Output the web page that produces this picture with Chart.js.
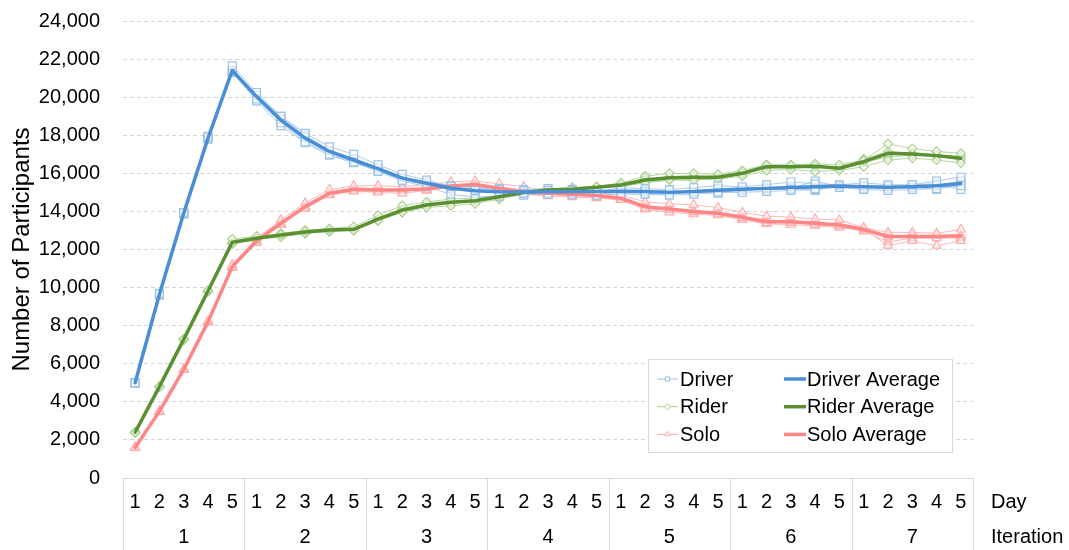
<!DOCTYPE html>
<html>
<head>
<meta charset="utf-8">
<script src="https://cdn.jsdelivr.net/npm/chart.js@4/dist/chart.umd.min.js"></script>
<style>
  html, body { margin: 0; padding: 0; background: #ffffff; }
  canvas { display: block; }
</style>
</head>
<body>
<canvas id="chart" width="1069" height="550"></canvas>
<script>
// Day within each iteration (7 iterations x 5 days)
const days = ['1','2','3','4','5','1','2','3','4','5','1','2','3','4','5','1','2','3','4','5',
              '1','2','3','4','5','1','2','3','4','5','1','2','3','4','5'];
const iterations = ['1','2','3','4','5','6','7'];
const yTicks = [0, 2000, 4000, 6000, 8000, 10000, 12000, 14000, 16000, 18000, 20000, 22000, 24000];

// Averages across runs
const driverAverage = [5000, 9650, 13900, 17850, 21400, 20030, 18800, 17850, 17150, 16700, 16250, 15750, 15480, 15220, 15080, 15030, 15020, 15030, 15040, 15040, 15060, 15040, 15000, 15040, 15110, 15160, 15210, 15250, 15300, 15330, 15300, 15270, 15300, 15350, 15470];
const riderAverage  = [2400, 4800, 7280, 9820, 12380, 12590, 12760, 12920, 13020, 13060, 13600, 14070, 14340, 14480, 14560, 14770, 14990, 15120, 15170, 15270, 15390, 15650, 15770, 15790, 15790, 16000, 16350, 16350, 16370, 16270, 16610, 17050, 17020, 16930, 16790];
const soloAverage   = [1600, 3500, 5700, 8200, 11100, 12450, 13380, 14250, 14950, 15160, 15130, 15120, 15190, 15330, 15420, 15220, 15040, 14950, 14900, 14830, 14690, 14250, 14130, 13990, 13900, 13690, 13460, 13460, 13380, 13290, 13060, 12680, 12680, 12680, 12720];

// Individual runs
const driverRun1 = [5000, 9700, 13950, 17950, 21650, 20250, 19000, 18100, 17400, 17000, 16450, 15950, 15650, 15300, 15100, 15050, 14950, 14900, 15100, 15000, 15250, 15200, 15150, 15250, 15350, 15300, 15400, 15550, 15450, 15400, 15500, 15400, 15400, 15600, 15800];
const driverRun2 = [4980, 9650, 13900, 17850, 21400, 19900, 18650, 17650, 17000, 16600, 16100, 15600, 15300, 14900, 14750, 14800, 14850, 14950, 14900, 14850, 14900, 14900, 14850, 14900, 15000, 15000, 15050, 15100, 15200, 15250, 15150, 15100, 15150, 15200, 15350];
const driverRun3 = [5010, 9650, 13880, 17800, 21350, 20100, 18850, 17900, 17200, 16750, 16300, 15800, 15550, 15350, 15250, 15150, 15100, 15000, 15000, 15100, 15000, 15050, 15100, 15000, 15200, 15250, 15250, 15200, 15600, 15300, 15350, 15300, 15250, 15350, 15600];
const driverRun4 = [5000, 9600, 13870, 17800, 21300, 19800, 18500, 17600, 16950, 16550, 16150, 15650, 15400, 15200, 15050, 14950, 15050, 15100, 15050, 15100, 15100, 14950, 14900, 15050, 15050, 15100, 15200, 15250, 15150, 15350, 15300, 15200, 15400, 15450, 15150];
const driverRun5 = [5010, 9650, 13900, 17850, 21300, 20100, 19000, 18000, 17200, 16600, 16250, 15750, 15500, 15350, 15250, 15200, 15150, 15200, 15150, 15050, 15050, 15100, 15000, 15000, 14950, 15150, 15150, 15150, 15100, 15350, 15200, 15350, 15300, 15150, 15450];

const riderRun1 = [2400, 4800, 7300, 9850, 12550, 12700, 12800, 13000, 13100, 13200, 13800, 14300, 14500, 14650, 14700, 14850, 15050, 15200, 15250, 15300, 15500, 15850, 16000, 16000, 15950, 16150, 16450, 16450, 16500, 16450, 16700, 17550, 17300, 17150, 17050];
const riderRun2 = [2380, 4780, 7250, 9800, 12350, 12550, 12650, 12850, 12950, 13000, 13500, 13950, 14200, 14300, 14400, 14650, 14900, 15100, 15100, 15250, 15300, 15500, 15650, 15650, 15700, 15850, 16150, 16200, 16100, 16150, 16350, 16700, 16800, 16700, 16550];
const riderRun3 = [2400, 4800, 7300, 9800, 12350, 12600, 12750, 12900, 13050, 13050, 13550, 14100, 14400, 14500, 14600, 14800, 14950, 15150, 15150, 15250, 15400, 15650, 15800, 15850, 15800, 16000, 16400, 16350, 16400, 16300, 16650, 17000, 17000, 16950, 16750];
const riderRun4 = [2410, 4810, 7280, 9820, 12300, 12500, 12850, 13000, 13050, 13050, 13600, 14050, 14300, 14500, 14550, 14750, 15000, 15050, 15200, 15300, 15350, 15750, 15750, 15800, 15750, 15950, 16300, 16400, 16350, 16200, 16600, 16850, 16950, 16900, 16700];
const riderRun5 = [2400, 4800, 7270, 9830, 12350, 12600, 12750, 12850, 12950, 13050, 13550, 13950, 14300, 14450, 14550, 14800, 15050, 15100, 15150, 15250, 15400, 15500, 15650, 15650, 15750, 16050, 16450, 16350, 16450, 16250, 16750, 17150, 17050, 16950, 16900];

const soloRun1 = [1600, 3500, 5700, 8250, 11200, 12600, 13550, 14450, 15150, 15350, 15350, 15300, 15400, 15550, 15600, 15450, 15300, 15050, 15050, 15000, 14850, 14500, 14400, 14350, 14200, 13950, 13750, 13700, 13600, 13550, 13150, 12900, 12900, 12850, 13050];
const soloRun2 = [1590, 3480, 5680, 8180, 11050, 12350, 13300, 14150, 14850, 15050, 15000, 14950, 15100, 15250, 15350, 15100, 14900, 14800, 14750, 14700, 14600, 14150, 14100, 13950, 13850, 13650, 13400, 13400, 13300, 13250, 13100, 12200, 12450, 12200, 12450];
const soloRun3 = [1600, 3500, 5700, 8200, 11100, 12450, 13400, 14250, 14950, 15150, 15150, 15150, 15200, 15350, 15400, 15200, 15050, 14950, 14950, 14850, 14700, 14300, 14150, 14000, 13900, 13700, 13500, 13450, 13400, 13300, 13050, 12750, 12700, 12750, 12750];
const soloRun4 = [1610, 3510, 5720, 8200, 11100, 12400, 13350, 14200, 14900, 15100, 15050, 15100, 15150, 15250, 15400, 15250, 15000, 15000, 14850, 14850, 14650, 14200, 14100, 14000, 13900, 13650, 13400, 13500, 13350, 13250, 12950, 12400, 12600, 12600, 12600];
const soloRun5 = [1600, 3500, 5700, 8180, 11050, 12450, 13300, 14200, 14900, 15150, 15100, 15100, 15100, 15300, 15350, 15100, 14950, 14900, 14900, 14750, 14650, 14100, 13950, 13850, 13800, 13550, 13350, 13300, 13250, 13150, 13000, 12650, 12750, 12700, 12650];

const FONT = "'Liberation Sans', Arial, sans-serif";

const styles = {
  Driver: { light: '#9dc3e6', lineLight: 'rgba(157,195,230,0.85)', dark: '#4a8fd6', point: 'rect', radius: 5.5 },
  Rider:  { light: '#a9d18e', lineLight: 'rgba(169,209,142,0.85)', dark: '#5a9031', point: 'rectRot', radius: 4.5 },
  Solo:   { light: '#ffabab', lineLight: 'rgba(255,171,171,0.85)', dark: '#ff8686', point: 'triangle', radius: 5 }
};

function runDataset(label, group, data) {
  const s = styles[group];
  return {
    label: label, data: data, order: 1,
    borderColor: s.lineLight, borderWidth: 1,
    pointStyle: s.point, pointRadius: s.radius,
    pointBorderColor: s.light, pointBorderWidth: 1.2,
    pointBackgroundColor: 'rgba(255,255,255,0.55)',
    tension: 0
  };
}
function avgDataset(label, group, data) {
  const s = styles[group];
  return {
    label: label, data: data, order: 0,
    borderColor: s.dark, borderWidth: 3.5, pointRadius: 0, tension: 0
  };
}

const datasets = [
  avgDataset('Driver Average', 'Driver', driverAverage),
  avgDataset('Rider Average', 'Rider', riderAverage),
  avgDataset('Solo Average', 'Solo', soloAverage),
  runDataset('Driver', 'Driver', driverRun1), runDataset('Driver', 'Driver', driverRun2),
  runDataset('Driver', 'Driver', driverRun3), runDataset('Driver', 'Driver', driverRun4),
  runDataset('Driver', 'Driver', driverRun5),
  runDataset('Rider', 'Rider', riderRun1), runDataset('Rider', 'Rider', riderRun2),
  runDataset('Rider', 'Rider', riderRun3), runDataset('Rider', 'Rider', riderRun4),
  runDataset('Rider', 'Rider', riderRun5),
  runDataset('Solo', 'Solo', soloRun1), runDataset('Solo', 'Solo', soloRun2),
  runDataset('Solo', 'Solo', soloRun3), runDataset('Solo', 'Solo', soloRun4),
  runDataset('Solo', 'Solo', soloRun5)
];

// Group separators under the axis plus the "Day" / "Iteration" row captions
const categoryFrame = {
  id: 'categoryFrame',
  afterDraw(chart) {
    const ctx = chart.ctx;
    const x = chart.scales.x;
    const top = chart.chartArea.bottom;
    const groups = iterations.length;
    ctx.save();
    ctx.strokeStyle = '#d9d9d9';
    ctx.lineWidth = 1;
    for (let k = 0; k <= groups; k++) {
      const px = Math.round(x.left + k * (x.right - x.left) / groups) + 0.5;
      ctx.beginPath();
      ctx.moveTo(px, top);
      ctx.lineTo(px, chart.height);
      ctx.stroke();
    }
    ctx.fillStyle = '#000';
    ctx.font = '20px ' + FONT;
    ctx.textAlign = 'left';
    ctx.textBaseline = 'middle';
    ctx.fillText('Day', 991, 502);
    ctx.fillText('Iteration', 991, 537);
    ctx.restore();
  }
};

// Two-column legend box inside the plot area
const boxLegend = {
  id: 'boxLegend',
  afterDatasetsDraw(chart) {
    const ctx = chart.ctx;
    const bx = 648.5, by = 359.5, bw = 304, bh = 93;
    ctx.save();
    ctx.fillStyle = '#ffffff';
    ctx.fillRect(bx, by, bw, bh);
    ctx.strokeStyle = '#d9d9d9';
    ctx.lineWidth = 1;
    ctx.strokeRect(bx, by, bw, bh);

    const rows = ['Driver', 'Rider', 'Solo'];
    ctx.font = '20px ' + FONT;
    ctx.textBaseline = 'middle';
    ctx.textAlign = 'left';
    rows.forEach((g, i) => {
      const y = 379 + i * 27.7;
      const s = styles[g];
      // run entry: thin line with a small hollow marker
      ctx.strokeStyle = s.light;
      ctx.lineWidth = 1;
      ctx.beginPath(); ctx.moveTo(657, y); ctx.lineTo(678, y); ctx.stroke();
      ctx.fillStyle = '#ffffff';
      ctx.strokeStyle = s.light;
      ctx.lineWidth = 1;
      Chart.helpers.drawPoint(ctx, {
        pointStyle: s.point, radius: 3, borderWidth: 1, rotation: 0
      }, 667.5, y);
      ctx.fillStyle = '#000';
      ctx.fillText(g, 680, y + 1);
      // average entry
      ctx.strokeStyle = s.dark;
      ctx.lineWidth = 3.5;
      ctx.beginPath(); ctx.moveTo(784, y); ctx.lineTo(806, y); ctx.stroke();
      ctx.fillStyle = '#000';
      ctx.fillText(g + ' Average', 807, y + 1);
    });
    ctx.restore();
  }
};

new Chart(document.getElementById('chart'), {
  type: 'line',
  data: { labels: days, datasets: datasets },
  options: {
    responsive: false,
    animation: false,
    devicePixelRatio: 1,
    layout: { padding: { top: 21, right: 96, bottom: 0, left: 0 } },
    plugins: { legend: { display: false }, tooltip: { enabled: false } },
    elements: { line: { borderCapStyle: 'round', borderJoinStyle: 'round' } },
    scales: {
      x: {
        type: 'category',
        offset: true,
        weight: 0,
        grid: { display: false, drawTicks: false, offset: true },
        border: { display: true, color: '#d9d9d9', width: 1 },
        ticks: { color: '#000', font: { family: FONT, size: 20 }, padding: 12, maxRotation: 0, autoSkip: false },
        afterFit(scale) { scale.height = 40; scale.paddingLeft = 0; scale.paddingRight = 0; }
      },
      x2: {
        type: 'category',
        labels: iterations,
        position: 'bottom',
        offset: true,
        weight: 1,
        grid: { display: false, drawTicks: false },
        border: { display: false },
        ticks: { color: '#000', font: { family: FONT, size: 20 }, padding: 7, maxRotation: 0, autoSkip: false },
        afterFit(scale) { scale.height = 32; scale.paddingLeft = 0; scale.paddingRight = 0; }
      },
      y: {
        min: 0, max: 24000,
        afterBuildTicks(scale) { scale.ticks = yTicks.map(v => ({ value: v })); },
        grid: {
          drawTicks: false,
          color: ctx => (ctx.tick && ctx.tick.value === 0) ? 'rgba(0,0,0,0)' : '#d4d4d4',
          lineWidth: 1
        },
        border: { display: false, dash: [4, 3] },
        ticks: {
          color: '#000', padding: 23,
          font: { family: FONT, size: 20 },
          callback: v => v.toLocaleString('en-US')
        },
        title: {
          display: true, text: 'Number of Participants', color: '#000',
          font: { family: FONT, size: 24 }, padding: { top: 8, bottom: 0 }
        },
        afterFit(scale) { scale.width = 123; scale.paddingTop = 0; scale.paddingBottom = 0; }
      }
    }
  },
  plugins: [categoryFrame, boxLegend]
});
</script>
</body>
</html>
